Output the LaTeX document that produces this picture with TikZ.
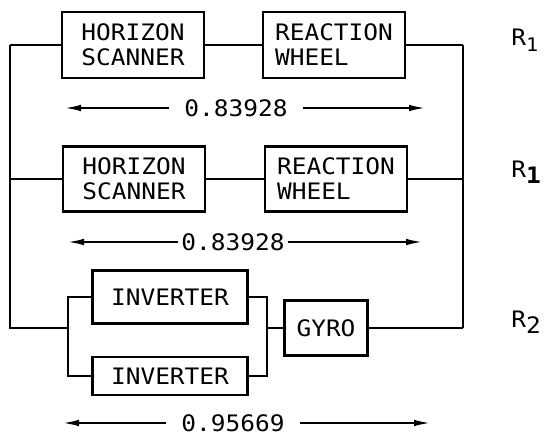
\documentclass[tikz,border=0pt]{standalone}
\usepackage{fontspec}
\setmonofont[FakeStretch=1.08]{DejaVu Sans Mono}
\usetikzlibrary{arrows.meta, positioning}

\begin{document}
\begin{tikzpicture}[
    x=0.75pt, y=-0.75pt,
    font=\ttfamily\fontsize{17}{18.75}\selectfont,
    >={Latex[length=12pt,width=5pt]},
    % Block styles
    unit/.style={rectangle, draw=black, line width=1.6pt, align=left, inner sep=2pt},
    wide/.style={unit, minimum width=106.5pt, minimum height=50pt},
    inv/.style={unit, minimum width=116.25pt},
    % Labels
    dimlabel/.style={inner ysep=0pt, inner xsep=#1},
    dimlabel/.default=11pt,
    rlabel/.style={anchor=west, inner sep=0pt},
    % Edge styles
    wire/.style={line width=1.5pt, draw=black},
    arrow/.style={->, line width=1.4pt, draw=black}
]
\useasboundingbox (0,0) rectangle (546,441);

% -----------------------------------------------------------
% ROW 1: first path (y=45)
% -----------------------------------------------------------
\node[wide] (hs1) at (133,45) {HORIZON\\SCANNER};
\node[wide] (rw1) at (334,45) {REACTION\\WHEEL};
\coordinate (lb1) at (10,45);
\coordinate (rb1) at (463,45);
\node[rlabel] (r1a) at (511,40) {R\raisebox{-0.45ex}{\fontsize{14}{14}\selectfont 1}};

% -----------------------------------------------------------
% ROW 2: second path (y=179)
% -----------------------------------------------------------
\node[wide, minimum height=48.75pt] (hs2) at (134,179) {HORIZON\\SCANNER};
\node[wide, minimum height=48.75pt] (rw2) at (336,179) {REACTION\\WHEEL};
\coordinate (lb2) at (10,179);
\coordinate (rb2) at (463,179);
\node[rlabel] (r1b) at (511,172) {R\raisebox{-0.5ex}{\bfseries 1}};

% -----------------------------------------------------------
% ROW 3: inverters in parallel, then gyro (y=328)
% -----------------------------------------------------------
\node[inv, minimum height=39.75pt] (inv1) at (170,297) {INVERTER};
\node[inv, minimum height=28.5pt] (inv2) at (170,376) {INVERTER};
\node[unit, minimum width=62.25pt, minimum height=41.25pt] (gyro) at (326,328) {GYRO};
\coordinate (lb3) at (10,328);
\coordinate (pl) at (68,328);
\coordinate (pr) at (267,328);
\coordinate (rb3) at (463,328);
\node[rlabel] (r2) at (511,322) {R\raisebox{-0.5ex}{2}};

% -----------------------------------------------------------
% Connectors
% -----------------------------------------------------------
\draw[wire] (lb1) -- (hs1) -- (rw1) -- (rb1);
\draw[wire] (lb2) -- (hs2) -- (rw2) -- (rb2);
\draw[wire] (lb1) -- (lb3) -- (pl);
\draw[wire] (rb1) -- (rb3);

% Inverter pair
\draw[wire] (pl) |- (inv1.west);
\draw[wire] (pl) |- (inv2.west);
\draw[wire] (inv1.east) -| (pr);
\draw[wire] (inv2.east) -| (pr);
\draw[wire] (pr) -- (gyro) -- (rb3);

% -----------------------------------------------------------
% Reliability values
% -----------------------------------------------------------
\node[dimlabel] (v1) at (236,108) {0.83928};
\coordinate (v1l) at (65,108);
\coordinate (v1r) at (425,108);
\draw[arrow] (v1) -- (v1l);
\draw[arrow] (v1) -- (v1r);

\node[dimlabel=2pt] (v2) at (233,242) {0.83928};
\coordinate (v2l) at (68,242);
\coordinate (v2r) at (422,242);
\draw[arrow] (v2) -- (v2l);
\draw[arrow] (v2) -- (v2r);

\node[dimlabel] (v3) at (233,423) {0.95669};
\coordinate (v3l) at (63,423);
\coordinate (v3r) at (430,423);
\draw[arrow] (v3) -- (v3l);
\draw[arrow] (v3) -- (v3r);

\end{tikzpicture}
\end{document}
